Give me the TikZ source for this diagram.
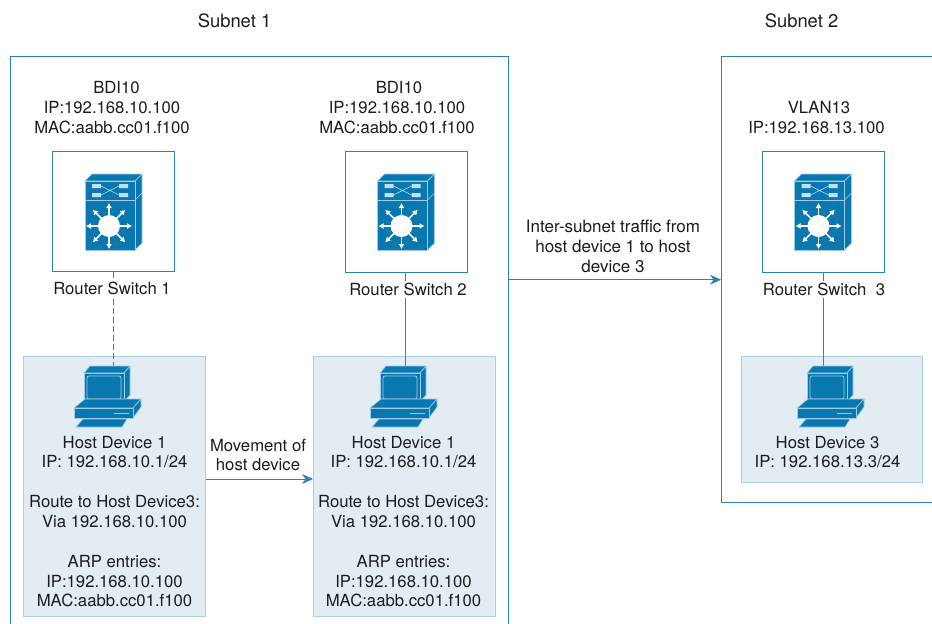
\documentclass[tikz,border=0pt]{standalone}
\usepackage{fontspec}
\setmainfont{TeX Gyre Heros}
\usetikzlibrary{arrows.meta}
\definecolor{iconblue}{HTML}{0A78B0}
\definecolor{iconline}{HTML}{9CCBE3}
\definecolor{boxline}{HTML}{2A85B3}
\definecolor{hostfill}{HTML}{E2ECF2}
\definecolor{hostline}{HTML}{A9CFE3}
\definecolor{linkc}{HTML}{2A85B3}
\definecolor{inktext}{HTML}{1C1C1C}
\tikzset{
  x=1pt,y=-1pt,
  lbl/.style={font=\fontsize{16.7}{19.8}\selectfont,text=inktext,align=center,inner sep=0pt},
  biglbl/.style={lbl,font=\fontsize{18.4}{22}\selectfont},
  traflbl/.style={lbl,font=\fontsize{17}{20}\selectfont},
  swlbl/.style={lbl,fill=white,inner ysep=2pt},
  framebox/.style={draw=boxline,line width=1pt,fill=white,inner sep=0pt},
  hostbox/.style={draw=hostline,line width=1.2pt,fill=hostfill,inner sep=0pt},
  link/.style={draw=linkc,line width=0.9pt},
  arrowlink/.style={link,-{Stealth[length=11pt,width=10pt]}},
  face/.style={fill=iconblue,draw=iconline,line width=0.6pt,line join=round},
  wht/.style={draw=white,line width=1.5pt,-{Latex[length=5pt,width=6pt]}},
  switchicon/.pic={
    \path[face] (-24,-45) -- (-17,-52) -- (33,-52) -- (26,-45) -- cycle;
    \path[face] (26,-45) -- (33,-52) -- (33,17) -- (26,24) -- cycle;
    \draw[iconline,line width=.5pt] (26,-26) -- (33,-33);
    \path[face] (-24,-45) rectangle (26,24);
    \draw[iconline,line width=.7pt] (-24,-26) -- (26,-26);
    \fill[iconline!60!white] (-17,-42) rectangle (-8,-38) (-17,-33) rectangle (-8,-29)
                             (10,-42) rectangle (19,-38) (10,-33) rectangle (19,-29);
    \draw[iconline!70!white,line width=.5pt] (-8,-40) -- (10,-31) (-8,-31) -- (10,-40);
    \fill[white] (0,0) circle (11);
    \foreach \a in {0,45,...,315}{\draw[wht] (\a:10) -- (\a:23);}
  },
  hosticon/.pic={
    \path[face] (-20,-39) -- (-14,-46) -- (26,-46) -- (20,-39) -- cycle;
    \path[face] (20,-39) -- (26,-46) -- (26,-17) -- (20,-10) -- cycle;
    \path[face] (-20,-39) rectangle (20,-10);
    \draw[iconline,line width=.7pt,rounded corners=2pt] (-17,-36) rectangle (17,-13);
    \path[face] (-30,-4) -- (-19,-13) -- (37,-13) -- (29,-4) -- cycle;
    \path[face] (29,-4) -- (37,-13) -- (37,-5) -- (29,6) -- cycle;
    \path[face] (-30,-4) rectangle (29,6);
    \draw[iconline,line width=.8pt] (10,1) -- (25,1);
    \path[face] (-21,7) -- (23,7) -- (18,15) -- (-28,15) -- cycle;
  }
}
\begin{document}
\begin{tikzpicture}
\useasboundingbox (0,0) rectangle (932,624);
\clip (0,0) rectangle (932,624);
\fill[white] (0,0) rectangle (932,624);
% subnets (run off the picture)
\node[framebox,minimum width=498pt,minimum height=600pt,anchor=north west] (subnetA) at (10,56) {};
\node[framebox,minimum width=240pt,minimum height=446pt,anchor=north west] (subnetB) at (721,56) {};
\node[biglbl] (titleA) at (234.5,20.5) {Subnet 1};
\node[biglbl] (titleB) at (801.5,20.5) {Subnet 2};
% routers
\node[framebox,minimum width=122pt,minimum height=120pt,anchor=north west] (swA) at (52,151) {};
\node[framebox,minimum width=122pt,minimum height=121pt,anchor=north west] (swB) at (345,151) {};
\node[framebox,minimum width=122pt,minimum height=121pt,anchor=north west] (swC) at (762,151) {};
\pic at (109,226) {switchicon};
\pic at (401.5,226) {switchicon};
\pic at (818.5,226) {switchicon};
\node[lbl] (infoA) at (112,107.5) {\hspace*{9pt}BDI10\\IP:192.168.10.100\\MAC:aabb.cc01.f100};
\node[lbl] (infoB) at (397,107.5) {\hspace*{4pt}BDI10\\IP:192.168.10.100\\MAC:aabb.cc01.f100};
\node[lbl] (infoC) at (816.5,117.5) {\hspace*{5pt}VLAN13\\IP:192.168.13.100};
% hosts
\node[hostbox,minimum width=182pt,minimum height=260pt,anchor=north west] (hostA) at (23,356) {};
\node[hostbox,minimum width=182pt,minimum height=260pt,anchor=north west] (hostB) at (313,356) {};
\node[hostbox,minimum width=181pt,minimum height=126pt,anchor=north west] (hostC) at (741,356) {};
\coordinate (pcA) at (113.5,367);
\coordinate (pcB) at (405,367);
\coordinate (pcC) at (823.3,367);
% connectors: they run from the router box to the computer, behind the router's label
\draw[link,dash pattern=on 6pt off 3pt] (swA.south -| pcA) -- (pcA);
\draw[link] (swB.south -| pcB) -- (pcB);
\draw[link] (swC.south -| pcC) -- (pcC);
\pic at (104,412) {hosticon};
\pic at (400,412) {hosticon};
\pic at (827,412) {hosticon};
\node[swlbl] (swlA) at (112,288) {Router Switch 1};
\node[swlbl] (swlB) at (408,289.5) {Router Switch 2};
\node[swlbl] (swlC) at (824,289.5) {Router Switch\ \ 3};
\node[lbl] (txtA) at (114.5,521.5) {Host Device 1\\IP: 192.168.10.1/24\\[20pt]Route to Host Device3:\\Via 192.168.10.100\\[20pt]ARP entries:\\IP:192.168.10.100\\MAC:aabb.cc01.f100};
\node[lbl] (txtB) at (403.5,521.5) {Host Device 1\\IP: 192.168.10.1/24\\[20pt]Route to Host Device3:\\Via 192.168.10.100\\[20pt]ARP entries:\\IP:192.168.10.100\\MAC:aabb.cc01.f100};
\node[lbl] (txtC) at (827.5,452) {Host Device 3\\IP: 192.168.13.3/24};
\node[lbl] (moveL) at (258,455) {Movement of\\host device};
\node[traflbl] (trafL) at (613,246) {Inter-subnet traffic from\\host device 1 to host\\device 3};
\coordinate (mvY) at (0,479);
\coordinate (trY) at (0,279.7);
\draw[arrowlink] (hostA.east |- mvY) -- (hostB.west |- mvY);
\draw[arrowlink] (subnetA.east |- trY) -- (subnetB.west |- trY);
\end{tikzpicture}
\end{document}
